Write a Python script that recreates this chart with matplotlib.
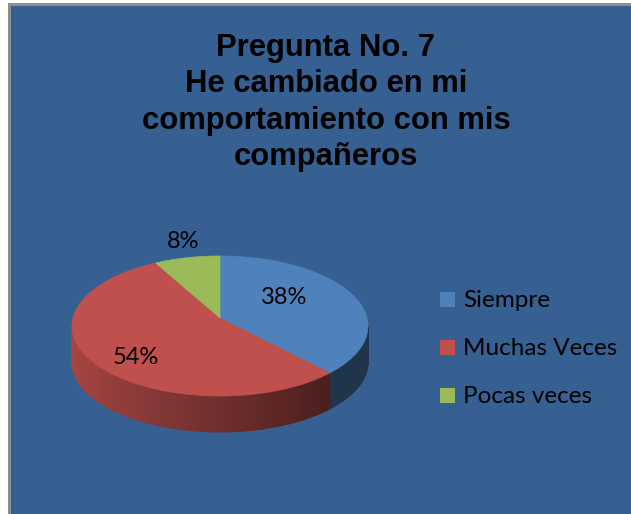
import numpy as np
import matplotlib
matplotlib.use("Agg")
import matplotlib.pyplot as plt
from matplotlib.patches import Polygon, Rectangle
from matplotlib.colors import to_rgb

# ---- data -------------------------------------------------------------
categories = ["Siempre", "Muchas Veces", "Pocas veces"]
percentages = [38, 54, 8]
slice_colors = ["#4f81bd", "#c0504d", "#9bbb59"]
title_lines = ["Pregunta No. 7", "He cambiado en mi",
               "comportamiento con mis", "compañeros"]

# ---- canvas (pixel coordinates, y downwards) ---------------------------
W, H = 631, 514
fig = plt.figure(figsize=(W / 100, H / 100), dpi=100, facecolor="white")
ax = fig.add_axes([0, 0, 1, 1])
ax.set_xlim(0, W)
ax.set_ylim(H, 0)
ax.axis("off")

bg = "#366092"
ax.add_patch(Rectangle((8, 3), W, H, facecolor="#8e8e8e", edgecolor="none"))
ax.add_patch(Rectangle((11, 6), W, H, facecolor=bg, edgecolor="none"))

# ---- 3D pie geometry (perspective-projected disc) ----------------------
cx, cy = 220, 318          # projected centre of the disc
R, B = 147, 69.1           # horizontal / vertical radii
k = 0.1143                 # perspective strength
depth = 36                 # thickness of the disc


def proj(phi_deg, r=1.0, dy=0.0):
    t = np.radians(phi_deg)
    s = 1.0 / (1.0 + k * r * np.sin(t))
    return cx + R * r * np.cos(t) * s, cy - B * r * np.sin(t) * s + dy


fracs = np.array(percentages, dtype=float) / sum(percentages)
cum = np.concatenate([[0], np.cumsum(fracs)])
starts = 90 - 360 * cum[:-1]
ends = 90 - 360 * cum[1:]

vis_lo = -180 + np.degrees(np.arcsin(k))
vis_hi = -np.degrees(np.arcsin(k))


def side_shade(phi):
    c0 = np.cos(np.radians(-50))
    t = np.clip((c0 - np.cos(np.radians(phi))) / (c0 + 1), 0, 1)
    return 0.40 + 0.475 * t


# side walls
for st, en, col in zip(starts, ends, slice_colors):
    base = np.array(to_rgb(col))
    for off in (0, -360, 360):
        lo = max(en + off, vis_lo)
        hi = min(st + off, vis_hi)
        if hi <= lo:
            continue
        angs = np.linspace(lo, hi, max(int((hi - lo) * 2), 2))
        for a0, a1 in zip(angs[:-1], angs[1:]):
            p0 = proj(a0)
            p1 = proj(a1)
            q1 = proj(a1, dy=depth)
            q0 = proj(a0, dy=depth)
            c = np.clip(base * side_shade((a0 + a1) / 2), 0, 1)
            ax.add_patch(Polygon([p0, p1, q1, q0], closed=True,
                                 facecolor=c, edgecolor=c, linewidth=0.6))

# top faces
for st, en, col in zip(starts, ends, slice_colors):
    angs = np.linspace(st, en, max(int(abs(st - en) * 2), 3))
    pts = [(cx, cy)] + [proj(a) for a in angs]
    ax.add_patch(Polygon(pts, closed=True, facecolor=col,
                         edgecolor=col, linewidth=0.5))

# percentage labels
label_font = "Lato"
label_pos = [(284, 304), (136, 364), (183, 248)]
for p, (lx, ly) in zip(percentages, label_pos):
    ax.text(lx, ly, f"{p}%", ha="center", va="baseline",
            fontsize=17, family=label_font, color="black")

# legend
leg_y = [307, 355, 403]
for name, col, yb in zip(categories, slice_colors, leg_y):
    ax.add_patch(Rectangle((440, yb - 15), 15, 15, facecolor=col,
                           edgecolor="none"))
    ax.text(463, yb, name, ha="left", va="baseline", fontsize=17.5,
            family=label_font, color="black")

# title
for i, line in enumerate(title_lines):
    ax.text(326, 56 + 36.3 * i, line, ha="center", va="baseline",
            fontsize=22.3, fontweight="bold", family="Liberation Sans",
            color="black")

fig.savefig("out.png", dpi=100, facecolor=fig.get_facecolor())
